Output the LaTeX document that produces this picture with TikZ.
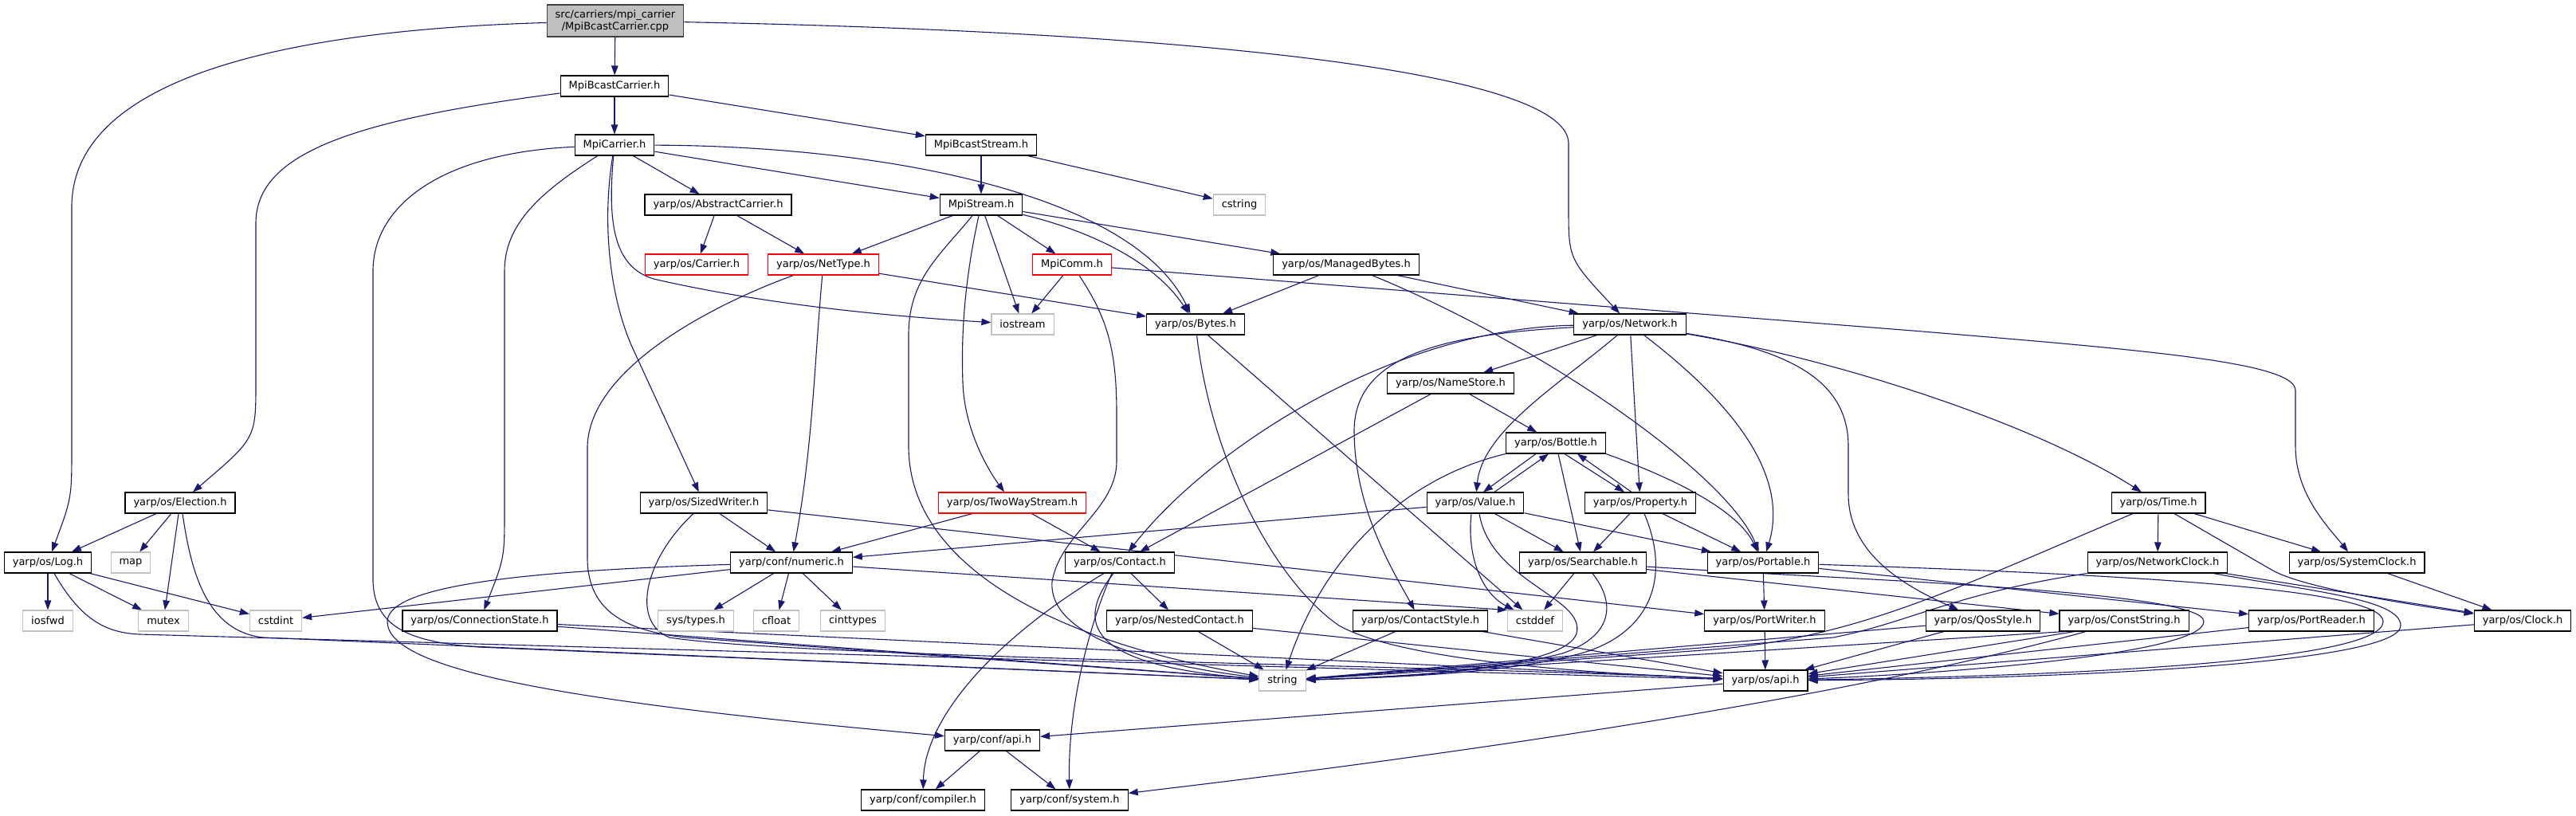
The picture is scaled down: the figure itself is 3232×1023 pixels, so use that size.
\documentclass[tikz,border=0pt]{standalone}
\usepackage{fontspec}
\setmainfont{DejaVu Sans}
\usetikzlibrary{arrows.meta}
\pgfdeclarelayer{bg}
\pgfsetlayers{bg,main}
\definecolor{edgec}{HTML}{191970}
\definecolor{sysc}{HTML}{BFBFBF}
\definecolor{redc}{HTML}{FF0000}
\definecolor{rootb}{HTML}{404040}
\begin{document}
\begin{tikzpicture}[x=1pt,y=-1pt,
 nbox/.style={draw, line width=1.1pt, rectangle, minimum height=26pt, inner xsep=10.5pt, inner ysep=2pt, font=\fontsize{13}{15}\selectfont, fill=white},
 hdr/.style={nbox, draw=black},
 sys/.style={nbox, draw=sysc},
 trunc/.style={nbox, draw=redc},
 rootbox/.style={nbox, draw=rootb, fill=sysc, minimum height=40pt, align=center},
 dep/.style={draw=edgec, line width=1.1pt, -{Triangle[length=12pt,width=8.5pt]}},
]
\useasboundingbox (0,0) rectangle (3232,1023);
\node[rootbox] (root) at (772,26) {src/carriers/mpi\_carrier\\/MpiBcastCarrier.cpp};
\node[hdr] (mbc) at (771,108) {MpiBcastCarrier.h};
\node[hdr] (mc) at (771,182) {MpiCarrier.h};
\node[hdr] (mbs) at (1231,182) {MpiBcastStream.h};
\node[hdr] (ms) at (1231,257) {MpiStream.h};
\node[sys] (cstring) at (1555,257) {cstring};
\node[hdr] (ac) at (901,257) {yarp/os/AbstractCarrier.h};
\node[trunc] (carrier) at (874,332) {yarp/os/Carrier.h};
\node[trunc] (nettype) at (1033,332) {yarp/os/NetType.h};
\node[trunc] (mpicomm) at (1345,332) {MpiComm.h};
\node[hdr] (mb) at (1689,332) {yarp/os/ManagedBytes.h};
\node[sys] (iostream) at (1283,407) {iostream};
\node[hdr] (bytes) at (1500,407) {yarp/os/Bytes.h};
\node[hdr] (network) at (2045,407) {yarp/os/Network.h};
\node[hdr] (namestore) at (1820,481) {yarp/os/NameStore.h};
\node[hdr] (bottle) at (1952,556) {yarp/os/Bottle.h};
\node[hdr] (value) at (1851,631) {yarp/os/Value.h};
\node[hdr] (property) at (2058,631) {yarp/os/Property.h};
\node[hdr] (searchable) at (1986,706) {yarp/os/Searchable.h};
\node[hdr] (portable) at (2212,706) {yarp/os/Portable.h};
\node[hdr] (time) at (2708,631) {yarp/os/Time.h};
\node[hdr] (nclock) at (2707,706) {yarp/os/NetworkClock.h};
\node[hdr] (sclock) at (2957,706) {yarp/os/SystemClock.h};
\node[hdr] (election) at (226,631) {yarp/os/Election.h};
\node[hdr] (log) at (60,706) {yarp/os/Log.h};
\node[sys] (map) at (164,706) {map};
\node[hdr] (sizedwriter) at (883,631) {yarp/os/SizedWriter.h};
\node[trunc] (twoway) at (1270,631) {yarp/os/TwoWayStream.h};
\node[hdr] (numeric) at (993,706) {yarp/conf/numeric.h};
\node[hdr] (contact) at (1405,706) {yarp/os/Contact.h};
\node[sys] (iosfwd) at (60,779) {iosfwd};
\node[sys] (mutex) at (205,779) {mutex};
\node[sys] (cstdint) at (346,779) {cstdint};
\node[hdr] (connstate) at (602,779) {yarp/os/ConnectionState.h};
\node[sys] (systypes) at (873,779) {sys/types.h};
\node[sys] (cfloat) at (974,779) {cfloat};
\node[sys] (cinttypes) at (1070,779) {cinttypes};
\node[hdr] (nested) at (1480,779) {yarp/os/NestedContact.h};
\node[hdr] (contactstyle) at (1782,779) {yarp/os/ContactStyle.h};
\node[sys] (cstddef) at (1926,779) {cstddef};
\node[hdr] (portwriter) at (2214,779) {yarp/os/PortWriter.h};
\node[hdr] (qos) at (2488,779) {yarp/os/QosStyle.h};
\node[hdr] (conststring) at (2665,779) {yarp/os/ConstString.h};
\node[hdr] (portreader) at (2900,779) {yarp/os/PortReader.h};
\node[hdr] (clock) at (3165,779) {yarp/os/Clock.h};
\node[sys] (string) at (1609,854) {string};
\node[hdr] (api) at (2215,854) {yarp/os/api.h};
\node[hdr] (confapi) at (1245,929) {yarp/conf/api.h};
\node[hdr] (compiler) at (1158,1004) {yarp/conf/compiler.h};
\node[hdr] (system) at (1342,1004) {yarp/conf/system.h};

\begin{pgfonlayer}{bg}
\fill[white] (0,0) rectangle (3232,1023);
% root
\draw[dep] (root) .. controls (350,38) and (90,100) .. (90,260) -- (90,560) .. controls (90,625) .. (log);
\draw[dep] (root) -- (mbc);
\draw[dep] (root) .. controls (1500,40) and (1968,90) .. (1968,180) -- (1968,260) .. controls (1968,325) .. (network);
% MpiBcastCarrier
\draw[dep] (mbc) -- (mc);
\draw[dep] (mbc) -- (mbs);
\draw[dep] (mbc) .. controls (450,150) and (321,190) .. (321,280) -- (321,480) .. controls (321,550) .. (election);
% MpiBcastStream
\draw[dep] (mbs) -- (ms);
\draw[dep] (mbs) -- (cstring);
% MpiCarrier
\draw[dep] (mc) -- (ac);
\draw[dep] (mc) -- (ms);
\draw[dep] (mc) .. controls (1100,183) and (1420,240) .. (bytes);
\draw[dep] (mc) .. controls (762,280) and (770,335) .. (820,350) .. controls (950,380) and (1100,396) .. (iostream);
\draw[dep] (mc) .. controls (755,280) and (765,370) .. (792,433) -- (sizedwriter);
\draw[dep] (mc) .. controls (680,240) and (633,280) .. (633,340) -- (633,640) .. controls (633,700) .. (connstate);
\draw[dep] (mc) .. controls (550,192) and (468,260) .. (468,340) -- (468,730) .. controls (470,790) and (520,806) .. (600,812) -- (string);
% MpiStream
\draw[dep] (ms) -- (nettype);
\draw[dep] (ms) .. controls (1180,320) and (1140,350) .. (1140,420) -- (1140,560) .. controls (1140,700) and (1300,800) .. (string);
\draw[dep] (ms) .. controls (1215,330) and (1205,400) .. (1208,480) .. controls (1210,540) and (1240,590) .. (twoway);
\draw[dep] (ms) -- (iostream);
\draw[dep] (ms) -- (mpicomm);
\draw[dep] (ms) .. controls (1370,290) and (1450,330) .. (bytes);
\draw[dep] (ms) -- (mb);
% AbstractCarrier
\draw[dep] (ac) -- (carrier);
\draw[dep] (ac) -- (nettype);
% NetType
\draw[dep] (nettype) .. controls (900,380) and (740,460) .. (737,560) -- (737,700) .. controls (737,770) and (790,792) .. (860,800) -- (string);
\draw[dep] (nettype) .. controls (1022,450) and (1020,560) .. (numeric);
\draw[dep] (nettype) -- (bytes);
% MpiComm
\draw[dep] (mpicomm) -- (iostream);
\draw[dep] (mpicomm) .. controls (1390,400) and (1401,440) .. (1401,520) -- (1401,580) .. controls (1400,640) and (1330,670) .. (1320,730) .. controls (1315,800) and (1450,835) .. (string);
\draw[dep] (mpicomm) -- (2400,415) .. controls (2700,440) and (2880,455) .. (2880,490) -- (2880,560) .. controls (2880,620) and (2920,660) .. (sclock);
% ManagedBytes
\draw[dep] (mb) -- (bytes);
\draw[dep] (mb) .. controls (1950,440) and (2170,600) .. (portable);
\draw[dep] (mb) -- (network);
% Bytes
\draw[dep] (bytes) -- (cstddef);
\draw[dep] (bytes) .. controls (1520,580) and (1600,730) .. (1680,785) .. controls (1760,830) and (2000,845) .. (api);
% Network
\draw[dep] (network) -- (namestore);
\draw[dep] (network) .. controls (1750,412) and (1520,560) .. (contact);
\draw[dep] (network) .. controls (1800,420) and (1700,450) .. (1699,540) .. controls (1699,640) and (1750,720) .. (contactstyle);
\draw[dep] (network) .. controls (1960,480) and (1860,540) .. (value);
\draw[dep] (network) -- (property);
\draw[dep] (network) .. controls (2140,480) and (2250,580) .. (portable);
\draw[dep] (network) .. controls (2250,440) and (2319,480) .. (2319,560) -- (2319,620) .. controls (2319,700) and (2400,740) .. (qos);
\draw[dep] (network) .. controls (2300,450) and (2550,530) .. (time);
% NameStore
\draw[dep] (namestore) -- (contact);
\draw[dep] (namestore) -- (bottle);
% Bottle / Value / Property
\draw[dep] ([xshift=-25pt]bottle.south) -- ([xshift=10pt]value.north);
\draw[dep] ([xshift=24pt]value.north) -- ([xshift=-9pt]bottle.south);
\draw[dep] ([xshift=11pt]bottle.south) -- ([xshift=-20pt]property.north);
\draw[dep] ([xshift=-11pt]property.north) -- ([xshift=27pt]bottle.south);
\draw[dep] (bottle) -- (searchable);
\draw[dep] (bottle.south east) .. controls (2100,600) and (2180,640) .. (portable);
\draw[dep] (bottle.south west) .. controls (1760,600) and (1660,700) .. (string);
\draw[dep] (value) -- (searchable);
\draw[dep] (value) -- (portable);
\draw[dep] (value) -- (numeric);
\draw[dep] ([xshift=-5pt]value.south) .. controls (1840,700) and (1860,745) .. (cstddef);
\draw[dep] ([xshift=5pt]value.south) .. controls (1870,730) and (1990,750) .. (1978,795) .. controls (1965,835) and (1800,848) .. (string);
\draw[dep] (property) -- (searchable);
\draw[dep] (property) -- (portable);
\draw[dep] ([xshift=5pt]property.south) .. controls (2095,720) and (2075,790) .. (1990,818) .. controls (1900,845) and (1750,850) .. (string);
% Searchable
\draw[dep] (searchable) -- (cstddef);
\draw[dep] ([xshift=12pt]searchable.south) .. controls (2030,760) and (2020,800) .. (1960,820) .. controls (1860,845) and (1750,850) .. (string);
\draw[dep] (searchable) -- (conststring);
\draw[dep] ([yshift=-5pt]searchable.east) .. controls (2300,727) and (2765,740) .. (2765,780) .. controls (2765,820) and (2450,845) .. (api);
% Portable
\draw[dep] (portable) -- (portwriter);
\draw[dep] (portable) -- (portreader);
\draw[dep] (portable) .. controls (2700,722) and (2990,740) .. (2990,780) .. controls (2990,830) and (2600,848) .. (api);
% Time
\draw[dep] (time) -- (nclock);
\draw[dep] (time) -- (sclock);
\draw[dep] ([xshift=20pt]time.south) -- (2850,715) .. controls (2875,730) and (2950,748) .. (clock);
\draw[dep] (time) .. controls (2450,740) and (2330,800) .. (2150,815) -- (string);
% NetworkClock
\draw[dep] (nclock) -- (clock);
\draw[dep] ([xshift=70pt]nclock.south) .. controls (2900,742) and (3012,752) .. (3012,785) .. controls (3012,832) and (2600,852) .. (api);
\draw[dep] (nclock.south west) .. controls (2450,745) and (2400,780) .. (2300,800) -- (string);
% Clocks, readers
\draw[dep] (sclock) -- (clock);
\draw[dep] (clock) -- (api);
\draw[dep] (portreader) -- (api);
\draw[dep] (qos) -- (api);
\draw[dep] (qos) -- (string);
\draw[dep] ([xshift=-75pt]conststring.south) -- (string);
\draw[dep] ([xshift=-62pt]conststring.south) -- (api);
\draw[dep] ([xshift=-48pt]conststring.south) .. controls (2300,880) and (1800,950) .. (system);
\draw[dep] (portwriter) -- (api);
% conf
\draw[dep] (api) -- (confapi);
\draw[dep] (confapi) -- (compiler);
\draw[dep] (confapi) -- (system);
% Contact
\draw[dep] (contact) -- (nested);
\draw[dep] ([xshift=-20pt]contact.south) .. controls (1250,800) and (1160,900) .. (compiler);
\draw[dep] ([xshift=-10pt]contact.south) .. controls (1360,800) and (1340,900) .. (system);
\draw[dep] ([xshift=-8pt]contact.south) .. controls (1350,780) and (1360,835) .. (string);
\draw[dep] (nested) -- (string);
\draw[dep] (nested) -- (api);
\draw[dep] (contactstyle) -- (string);
\draw[dep] (contactstyle) -- (api);
% TwoWayStream, SizedWriter
\draw[dep] (twoway) -- (numeric);
\draw[dep] (twoway) -- (contact);
\draw[dep] (sizedwriter) -- (numeric);
\draw[dep] (sizedwriter) -- (portwriter);
\draw[dep] ([xshift=-13pt]sizedwriter.south) .. controls (810,700) and (790,780) .. (840,800) .. controls (1000,825) and (1800,835) .. (api);
% numeric
\draw[dep] (numeric) -- (systypes);
\draw[dep] (numeric) -- (cfloat);
\draw[dep] (numeric) -- (cinttypes);
\draw[dep] (numeric) -- (cstddef.north west);
\draw[dep] (numeric) -- (cstdint);
\draw[dep] (numeric) .. controls (700,715) and (486,730) .. (486,780) .. controls (486,840) and (700,880) .. (confapi);
% Log, Election, ConnectionState
\draw[dep] (log) -- (iosfwd);
\draw[dep] (log) -- (mutex);
\draw[dep] (log) -- (cstdint);
\draw[dep] ([xshift=8pt]log.south) .. controls (100,775) and (130,794) .. (175,796) -- (api);
\draw[dep] (election) -- (log);
\draw[dep] (election) -- (map);
\draw[dep] (election) -- (mutex);
\draw[dep] ([xshift=3pt]election.south) .. controls (240,720) and (260,792) .. (330,800) -- (string);
\draw[dep] (connstate) -- (string);
\draw[dep] (connstate) -- (api);
\end{pgfonlayer}
\end{tikzpicture}
\end{document}
